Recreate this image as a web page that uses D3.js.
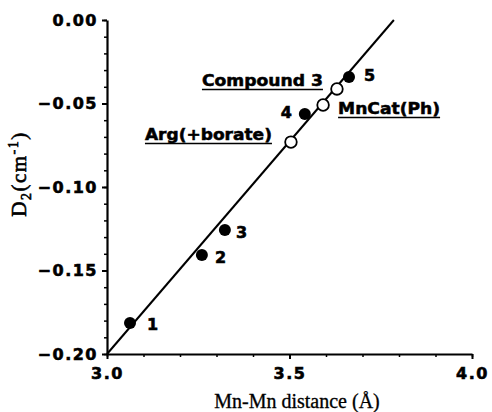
<!DOCTYPE html>
<html>
<head>
<meta charset="utf-8">
<script src="https://cdn.jsdelivr.net/npm/d3@7"></script>
<style>
  body { margin: 0; background: #fff; }
  svg { display: block; }
</style>
</head>
<body>
<div id="chart"></div>
<script>
// filled points: numbered complexes
var filledX = [3.063, 3.260, 3.323, 3.542, 3.663];
var filledY = [-0.1814, -0.1407, -0.1257, -0.0563, -0.0341];
var filledLabels = ['1', '2', '3', '4', '5'];

// open points: named species
var openX = [3.504, 3.592, 3.630];
var openY = [-0.0731, -0.0509, -0.0413];
var openLabels = ['Arg(+borate)', 'MnCat(Ph)', 'Compound 3'];

// fitted straight line, its two ends
var fitX = [3.0, 3.786];
var fitY = [-0.20, 0.00];

var xTicks = [3.0, 3.5, 4.0];
var yTicks = [0.00, -0.05, -0.10, -0.15, -0.20];

// where each label sits next to its point
var filledOffsets = [[17, 7, 'start'], [13, 8, 'start'], [11, 8, 'start'], [-13, 4, 'end'], [15, 4, 'start']];
var openOffsets = [[-19, -2, 'end', 127], [15, 9, 'start', 102], [-14, -3, 'end', 121]];

var margin = {top: 20, right: 20, bottom: 58, left: 107},
    width = 472 - margin.left,
    height = 354 - margin.top;

var svg = d3.select("#chart")
  .append("svg")
    .attr("width", 492)
    .attr("height", 412)
  .append("g")
    .attr("transform", "translate(" + margin.left + "," + margin.top + ")");

var x = d3.scaleLinear().domain([3.0, 4.0]).range([0, width]);
var y = d3.scaleLinear().domain([-0.20, 0.00]).range([height, 0]);

var tickFont = "'DejaVu Sans', sans-serif";

// minor ticks first
svg.append("g")
  .attr("transform", "translate(0," + height + ")")
  .call(d3.axisBottom(x).tickValues(d3.range(3.0, 4.001, 0.1)).tickSize(3).tickFormat(""))
  .call(g => g.select(".domain").remove())
  .selectAll("line").attr("stroke-width", 1.5);

svg.append("g")
  .call(d3.axisLeft(y).tickValues(d3.range(-0.20, 0.0001, 0.01)).tickSize(3).tickFormat(""))
  .call(g => g.select(".domain").remove())
  .selectAll("line").attr("stroke-width", 1.5);

// major axes
var xAxis = svg.append("g")
  .attr("transform", "translate(0," + height + ")")
  .call(d3.axisBottom(x).tickValues(xTicks).tickSize(5).tickSizeOuter(0).tickPadding(9).tickFormat(d3.format(".1f")));

var yAxis = svg.append("g")
  .call(d3.axisLeft(y).tickValues(yTicks).tickSize(5).tickSizeOuter(0).tickPadding(4).tickFormat(d3.format(".2f")));

[xAxis, yAxis].forEach(function(ax) {
  ax.select(".domain").attr("stroke-width", 2.2);
  ax.selectAll(".tick line").attr("stroke-width", 2);
  ax.selectAll("text")
    .attr("font-family", tickFont)
    .attr("font-weight", "bold")
    .attr("font-size", 16)
    .attr("letter-spacing", 1.5)
    .attr("fill", "#000")
    .attr("stroke", "#000")
    .attr("stroke-width", 0.6);
});

// fit line
svg.append("line")
  .attr("x1", x(fitX[0])).attr("y1", y(fitY[0]))
  .attr("x2", x(fitX[1])).attr("y2", y(fitY[1]))
  .attr("stroke", "#000")
  .attr("stroke-width", 2);

// filled circles
svg.selectAll(".filled")
  .data(filledX)
  .enter().append("circle")
    .attr("class", "filled")
    .attr("cx", function(d) { return x(d); })
    .attr("cy", function(d, i) { return y(filledY[i]); })
    .attr("r", 6)
    .attr("fill", "#000");

svg.selectAll(".filled-label")
  .data(filledLabels)
  .enter().append("text")
    .attr("class", "filled-label")
    .attr("x", function(d, i) { return x(filledX[i]) + filledOffsets[i][0]; })
    .attr("y", function(d, i) { return y(filledY[i]) + filledOffsets[i][1]; })
    .attr("text-anchor", function(d, i) { return filledOffsets[i][2]; })
    .attr("font-family", tickFont)
    .attr("font-weight", "bold")
    .attr("font-size", 16)
    .attr("stroke", "#000")
    .attr("stroke-width", 0.6)
    .text(function(d) { return d; });

// open circles
svg.selectAll(".open")
  .data(openX)
  .enter().append("circle")
    .attr("class", "open")
    .attr("cx", function(d) { return x(d); })
    .attr("cy", function(d, i) { return y(openY[i]); })
    .attr("r", 5.8)
    .attr("fill", "#fff")
    .attr("stroke", "#000")
    .attr("stroke-width", 1.8);

openLabels.forEach(function(lab, i) {
  var o = openOffsets[i];
  var tx = x(openX[i]) + o[0];
  var ty = y(openY[i]) + o[1];
  svg.append("text")
    .attr("x", tx)
    .attr("y", ty)
    .attr("text-anchor", o[2])
    .attr("font-family", tickFont)
    .attr("font-weight", "bold")
    .attr("font-size", 15)
    .attr("stroke", "#000")
    .attr("stroke-width", 0.5)
    .attr("textLength", o[3])
    .attr("lengthAdjust", "spacingAndGlyphs")
    .text(lab);
  var x0 = o[2] == 'end' ? tx - o[3] : tx;
  svg.append("line")
    .attr("x1", x0).attr("x2", x0 + o[3])
    .attr("y1", ty + 3.5).attr("y2", ty + 3.5)
    .attr("stroke", "#000")
    .attr("stroke-width", 1.5);
});

// axis titles
d3.select("svg").append("text")
  .attr("x", 297)
  .attr("y", 408)
  .attr("text-anchor", "middle")
  .attr("font-family", "'Liberation Serif', 'Times New Roman', serif")
  .attr("font-size", 20)
  .attr("stroke", "#000")
  .attr("stroke-width", 0.3)
  .text("Mn-Mn distance (Å)");

var yt = d3.select("svg").append("text")
  .attr("transform", "translate(26,174) rotate(-90)")
  .attr("text-anchor", "middle")
  .attr("font-family", "'Liberation Serif', 'Times New Roman', serif")
  .attr("font-size", 21)
  .attr("letter-spacing", 1.5)
  .attr("stroke", "#000")
  .attr("stroke-width", 0.6);
yt.append("tspan").text("D");
yt.append("tspan").attr("font-size", 14).attr("dy", 5).text("2");
yt.append("tspan").attr("dy", -5).text("(cm");
yt.append("tspan").attr("font-size", 14).attr("dy", -8).text("-1");
yt.append("tspan").attr("dy", 8).text(")");
</script>
</body>
</html>
